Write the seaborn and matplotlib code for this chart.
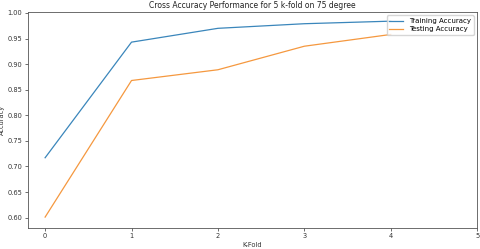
import matplotlib
matplotlib.use("Agg")
import matplotlib.pyplot as plt
import seaborn as sns
import pandas as pd

folds = [0, 1, 2, 3, 4]
train_acc = [0.717, 0.943, 0.970, 0.979, 0.984]
test_acc = [0.601, 0.868, 0.889, 0.935, 0.958]
series_names = ["Training Accuracy", "Testing Accuracy"]
xticks = [0, 1, 2, 3, 4, 5]
yticks = [0.60, 0.65, 0.70, 0.75, 0.80, 0.85, 0.90, 0.95, 1.00]

df = pd.DataFrame({
    "fold": folds * 2,
    "acc": train_acc + test_acc,
    "series": [series_names[0]] * len(folds) + [series_names[1]] * len(folds),
})

plt.rcParams["font.family"] = ["DejaVu Sans"]
fig, ax = plt.subplots(figsize=(4.8, 2.49), dpi=100)
fig.subplots_adjust(left=0.058, right=0.994, top=0.952, bottom=0.085)
sns.lineplot(data=df, x="fold", y="acc", hue="series",
             palette=["#3a86bb", "#f5983f"], linewidth=0.9, ax=ax)
ax.set_xlim(-0.2, 5)
ax.set_ylim(0.58, 1.002)
ax.set_xticks(xticks)
ax.set_yticks(yticks)
ax.set_yticklabels([f"{v:.2f}" for v in yticks])
ax.tick_params(labelsize=4.8, length=2, width=0.5, pad=2, colors="#333333")
for s in ax.spines.values():
    s.set_linewidth(0.6)
    s.set_color("#555555")
ax.set_title("Cross Accuracy Performance for 5 k-fold on 75 degree", fontsize=5.5, pad=3, color="#222222")
ax.set_xlabel("K-Fold", fontsize=4.8, labelpad=2, color="#333333")
ax.set_ylabel("Accuracy", fontsize=4.8, labelpad=2, color="#333333")
ax.legend(title=None, loc="upper right", fontsize=5, frameon=True,
          handlelength=2, borderpad=0.4, labelspacing=0.3)
fig.savefig("out.png", dpi=100)
